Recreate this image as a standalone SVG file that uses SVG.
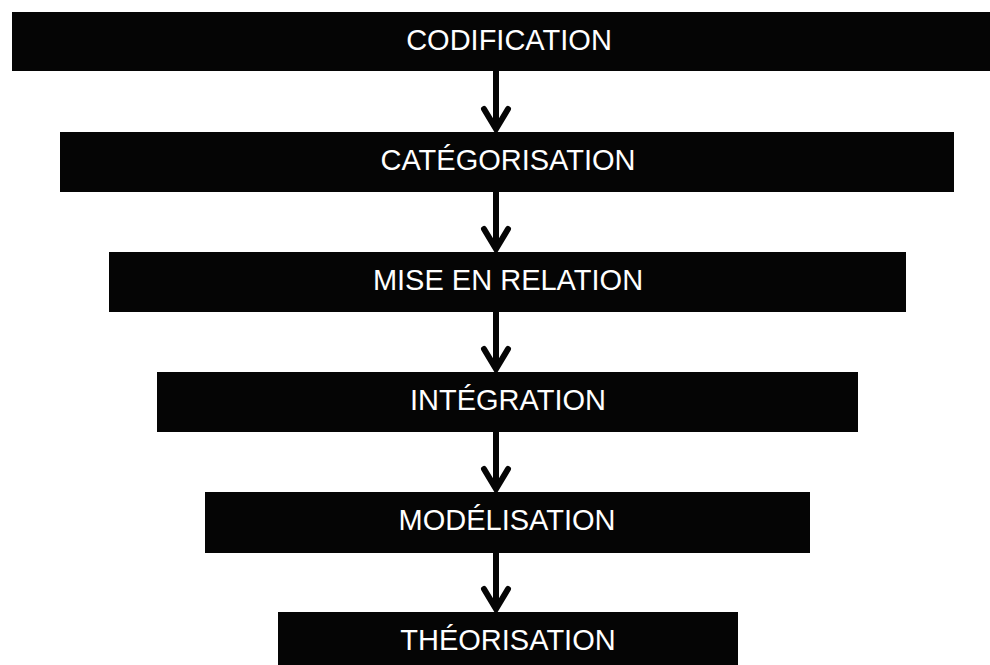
<svg xmlns="http://www.w3.org/2000/svg" width="990" height="665" viewBox="0 0 990 665">
  <style>
    .box { fill: #050505; }
    .label { fill: #ffffff; font-family: "Liberation Sans", Arial, sans-serif; font-size: 29px; text-anchor: middle; }
    .link { stroke: #050505; stroke-width: 6; fill: none; }
    .head { stroke: #050505; stroke-width: 6; fill: none; stroke-linecap: round; stroke-linejoin: miter; }
  </style>
  <rect width="990" height="665" fill="#ffffff"/>

  <g id="codification">
    <rect class="box" x="12" y="12" width="978" height="59"/>
    <text class="label" x="509" y="50">CODIFICATION</text>
  </g>
  <g id="categorisation">
    <rect class="box" x="60" y="132" width="894" height="60"/>
    <text class="label" x="508" y="170">CATÉGORISATION</text>
  </g>
  <g id="mise-en-relation">
    <rect class="box" x="109" y="252" width="797" height="60"/>
    <text class="label" x="508" y="290">MISE EN RELATION</text>
  </g>
  <g id="integration">
    <rect class="box" x="157" y="372" width="701" height="60"/>
    <text class="label" x="508" y="410">INTÉGRATION</text>
  </g>
  <g id="modelisation">
    <rect class="box" x="205" y="492" width="605" height="61"/>
    <text class="label" x="507" y="530">MODÉLISATION</text>
  </g>
  <g id="theorisation">
    <rect class="box" x="278" y="612" width="460" height="53"/>
    <text class="label" x="508" y="650">THÉORISATION</text>
  </g>

  <g id="connectors">
    <path class="link" d="M496 71 V129"/>
    <path class="head" d="M484 109 L496 129 L508 109"/>
    <path class="link" d="M496 192 V249"/>
    <path class="head" d="M484 229 L496 249 L508 229"/>
    <path class="link" d="M496 312 V369"/>
    <path class="head" d="M484 349 L496 369 L508 349"/>
    <path class="link" d="M496 432 V489"/>
    <path class="head" d="M484 469 L496 489 L508 469"/>
    <path class="link" d="M496 553 V609"/>
    <path class="head" d="M484 589 L496 609 L508 589"/>
  </g>
</svg>
